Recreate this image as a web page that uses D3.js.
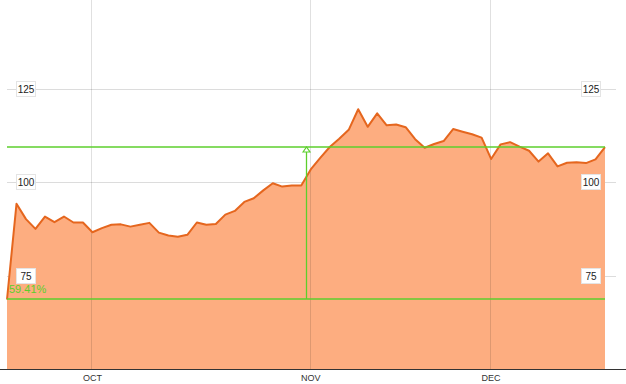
<!DOCTYPE html>
<html>
<head>
<meta charset="utf-8">
<script src="https://cdn.jsdelivr.net/npm/d3@7"></script>
<style>
  body { margin: 0; background: #fff; }
  svg { display: block; font-family: "Liberation Sans", Arial, sans-serif; }
</style>
</head>
<body>
<script>
var width = 626,
    height = 384;

// closing prices, one per trading day (mid Sep .. mid Dec)
var prices = [
  68.6, 94.2, 90.1, 87.5, 90.8, 89.3, 90.8, 89.2, 89.2, 86.6,
  87.7, 88.6, 88.7, 88.1, 88.6, 89.1, 86.5, 85.7, 85.4, 85.9,
  89.2, 88.6, 88.8, 91.3, 92.3, 94.7, 95.7, 97.8, 99.7, 98.8,
  99.1, 99.1, 103.4, 106.5, 109.4, 111.6, 114.0, 119.5, 114.8, 118.4,
  115.2, 115.4, 114.7, 111.5, 109.2, 110.2, 111.0, 114.2, 113.5, 112.8,
  111.9, 106.2, 110.1, 110.7, 109.5, 108.4, 105.5, 107.7, 104.2, 105.2,
  105.3, 105.1, 106.1, 109.35
];

// month ticks: label and index of first trading day
var monthLabels = ["OCT", "NOV", "DEC"];
var monthIndex = [9, 32, 51];

var yTicks = [75, 100, 125];
var changeLabel = "59.41%";

var green = "#5ccf2c";

var x = d3.scaleLinear()
    .domain([0, prices.length - 1])
    .range([7, 605]);

var y = d3.scaleLinear()
    .domain([50, 125])
    .range([369, 88.7]);

var svg = d3.select("body")
    .append("svg")
    .attr("width", width)
    .attr("height", height);

// horizontal grid
svg.append("g")
    .selectAll("line")
    .data(yTicks)
    .enter()
    .append("line")
    .attr("x1", 7)
    .attr("x2", 616)
    .attr("y1", function(d) { return Math.round(y(d)) + 0.5; })
    .attr("y2", function(d) { return Math.round(y(d)) + 0.5; })
    .attr("stroke", "#dcdcdc");

var area = d3.area()
    .x(function(d, i) { return x(i); })
    .y0(y(50))
    .y1(function(d) { return y(d); });

var line = d3.line()
    .x(function(d, i) { return x(i); })
    .y(function(d) { return y(d); });

svg.append("path")
    .datum(prices)
    .attr("d", area)
    .attr("fill", "#fdad80");

// vertical month grid, faint over the area
svg.append("g")
    .selectAll("line")
    .data(monthIndex)
    .enter()
    .append("line")
    .attr("x1", function(d) { return Math.round(x(d)) - 0.5; })
    .attr("x2", function(d) { return Math.round(x(d)) - 0.5; })
    .attr("y1", 0)
    .attr("y2", y(50))
    .attr("stroke", "rgba(0,0,0,0.12)");

svg.append("path")
    .datum(prices)
    .attr("d", line)
    .attr("fill", "none")
    .attr("stroke", "#e5661e")
    .attr("stroke-width", 2)
    .attr("stroke-linejoin", "round");

// bottom axis
svg.append("line")
    .attr("x1", 0)
    .attr("x2", width)
    .attr("y1", y(50) + 0.5)
    .attr("y2", y(50) + 0.5)
    .attr("stroke", "#333");

svg.append("g")
    .selectAll("text")
    .data(monthLabels)
    .enter()
    .append("text")
    .attr("x", function(d, i) { return x(monthIndex[i]); })
    .attr("y", 381)
    .attr("text-anchor", "middle")
    .attr("font-size", 9)
    .attr("fill", "#333")
    .text(function(d) { return d; });

// y labels in boxes, both sides
[26, 591].forEach(function(cx) {
    var g = svg.append("g")
        .selectAll("g")
        .data(yTicks)
        .enter()
        .append("g")
        .attr("transform", function(d) { return "translate(" + cx + "," + Math.round(y(d)) + ")"; });
    g.append("rect")
        .attr("x", -9.5)
        .attr("y", -7.5)
        .attr("width", 19)
        .attr("height", 15)
        .attr("fill", "#fff")
        .attr("stroke", "#e4e4e4");
    g.append("text")
        .attr("y", 3.5)
        .attr("text-anchor", "middle")
        .attr("font-size", 10)
        .attr("fill", "#222")
        .text(function(d) { return d; });
});

// change measurement: first to last value
var first = prices[0],
    last = prices[prices.length - 1],
    midX = Math.round(x((prices.length - 1) / 2)) + 0.5;

svg.append("g")
    .selectAll("path")
    .data([first, last])
    .enter()
    .append("path")
    .attr("d", function(d) {
        var yy = Math.round(y(d));
        return "M" + x(0) + "," + yy + "H" + x(prices.length - 1);
    })
    .attr("fill", "none")
    .attr("stroke", green)
    .attr("stroke-width", 1.6);

svg.append("line")
    .attr("x1", midX)
    .attr("x2", midX)
    .attr("y1", Math.round(y(first)))
    .attr("y2", Math.round(y(last)) + 1)
    .attr("stroke", green)
    .attr("stroke-width", 1.3);

var ty = Math.round(y(last));
svg.append("path")
    .attr("d", "M" + (midX - 3.5) + "," + (ty + 5) + "L" + midX + "," + (ty) + "L" + (midX + 3.5) + "," + (ty + 5) + "Z")
    .attr("fill", "#fff")
    .attr("stroke", green)
    .attr("stroke-width", 1.2);

svg.append("text")
    .attr("x", 9)
    .attr("y", Math.round(y(first)) - 6)
    .attr("font-size", 11)
    .attr("fill", green)
    .text(changeLabel);
</script>
</body>
</html>
